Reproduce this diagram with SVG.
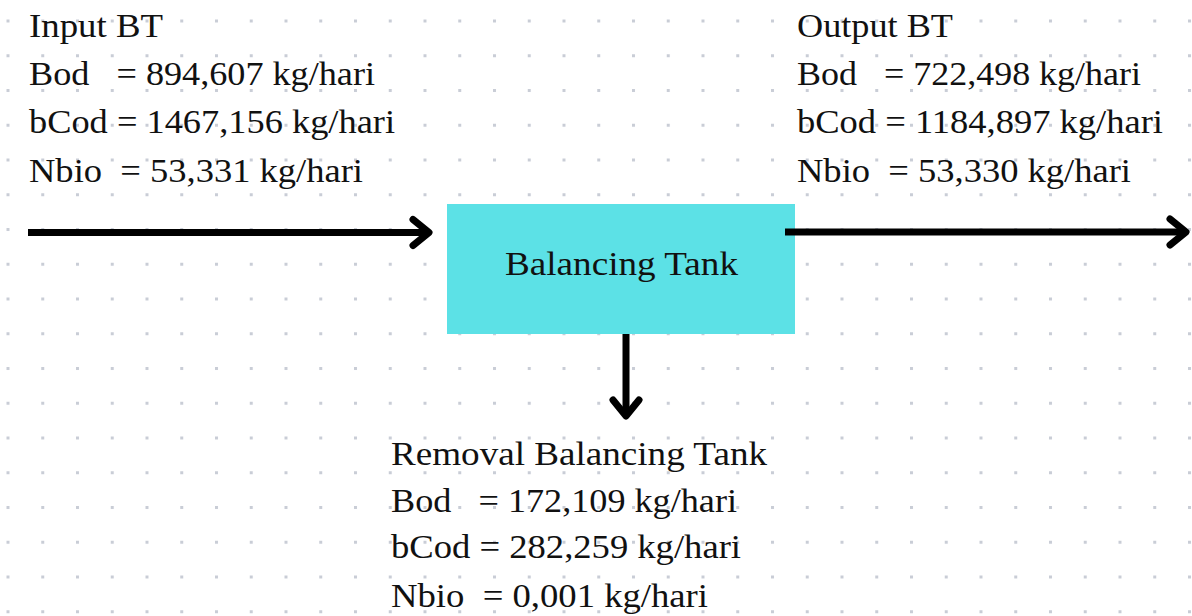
<svg xmlns="http://www.w3.org/2000/svg" width="1192" height="616" viewBox="0 0 1192 616">
  <defs>
    <pattern id="dots" patternUnits="userSpaceOnUse" x="6.5" y="19.5" width="34.75" height="34.75">
      <rect x="0" y="0" width="3" height="3" fill="#c9cdd6"/>
    </pattern>
    <marker id="chev" markerUnits="userSpaceOnUse" orient="auto" markerWidth="40" markerHeight="40" viewBox="-24 -20 30 40" refX="0" refY="0" overflow="visible">
      <path d="M-16,-13 L0,0 L-16,13" fill="none" stroke="#000" stroke-width="7" stroke-linecap="round" stroke-linejoin="round"/>
    </marker>
    <style>
      .t { font-family: "Liberation Serif", "Times New Roman", serif; font-size: 33px; fill: #111; white-space: pre; }
      .c { fill: none; stroke: #000; stroke-width: 7; marker-end: url(#chev); }
    </style>
  </defs>
  <rect width="1192" height="616" fill="#ffffff"/>
  <rect width="1192" height="616" fill="url(#dots)"/>

  <g id="input-bt">
    <text class="t" x="29" y="37" textLength="134" lengthAdjust="spacingAndGlyphs">Input BT</text>
    <text class="t" x="29" y="85" textLength="346" lengthAdjust="spacingAndGlyphs" xml:space="preserve">Bod   = 894,607 kg/hari</text>
    <text class="t" x="29" y="133" textLength="366" lengthAdjust="spacingAndGlyphs">bCod = 1467,156 kg/hari</text>
    <text class="t" x="29" y="182" textLength="334" lengthAdjust="spacingAndGlyphs" xml:space="preserve">Nbio  = 53,331 kg/hari</text>
  </g>

  <g id="output-bt">
    <text class="t" x="797" y="37" textLength="156" lengthAdjust="spacingAndGlyphs">Output BT</text>
    <text class="t" x="797" y="85" textLength="344" lengthAdjust="spacingAndGlyphs" xml:space="preserve">Bod   = 722,498 kg/hari</text>
    <text class="t" x="797" y="133" textLength="366" lengthAdjust="spacingAndGlyphs">bCod = 1184,897 kg/hari</text>
    <text class="t" x="797" y="182" textLength="334" lengthAdjust="spacingAndGlyphs" xml:space="preserve">Nbio  = 53,330 kg/hari</text>
  </g>

  <g id="balancing-tank">
    <rect x="447" y="204" width="348" height="130" fill="#5ce1e6"/>
    <text class="t" x="505" y="275" textLength="233" lengthAdjust="spacingAndGlyphs">Balancing Tank</text>
  </g>

  <g id="removal-bt">
    <text class="t" x="391" y="465" textLength="376" lengthAdjust="spacingAndGlyphs">Removal Balancing Tank</text>
    <text class="t" x="391" y="512" textLength="346" lengthAdjust="spacingAndGlyphs" xml:space="preserve">Bod   = 172,109 kg/hari</text>
    <text class="t" x="391" y="558" textLength="350" lengthAdjust="spacingAndGlyphs">bCod = 282,259 kg/hari</text>
    <text class="t" x="391" y="607" textLength="317" lengthAdjust="spacingAndGlyphs" xml:space="preserve">Nbio  = 0,001 kg/hari</text>
  </g>

  <g id="connectors">
    <path class="c" d="M28,232.5 L429,232.5"/>
    <path class="c" d="M785,232 L1186,232"/>
    <path class="c" d="M626,334 L626,416"/>
  </g>
</svg>
